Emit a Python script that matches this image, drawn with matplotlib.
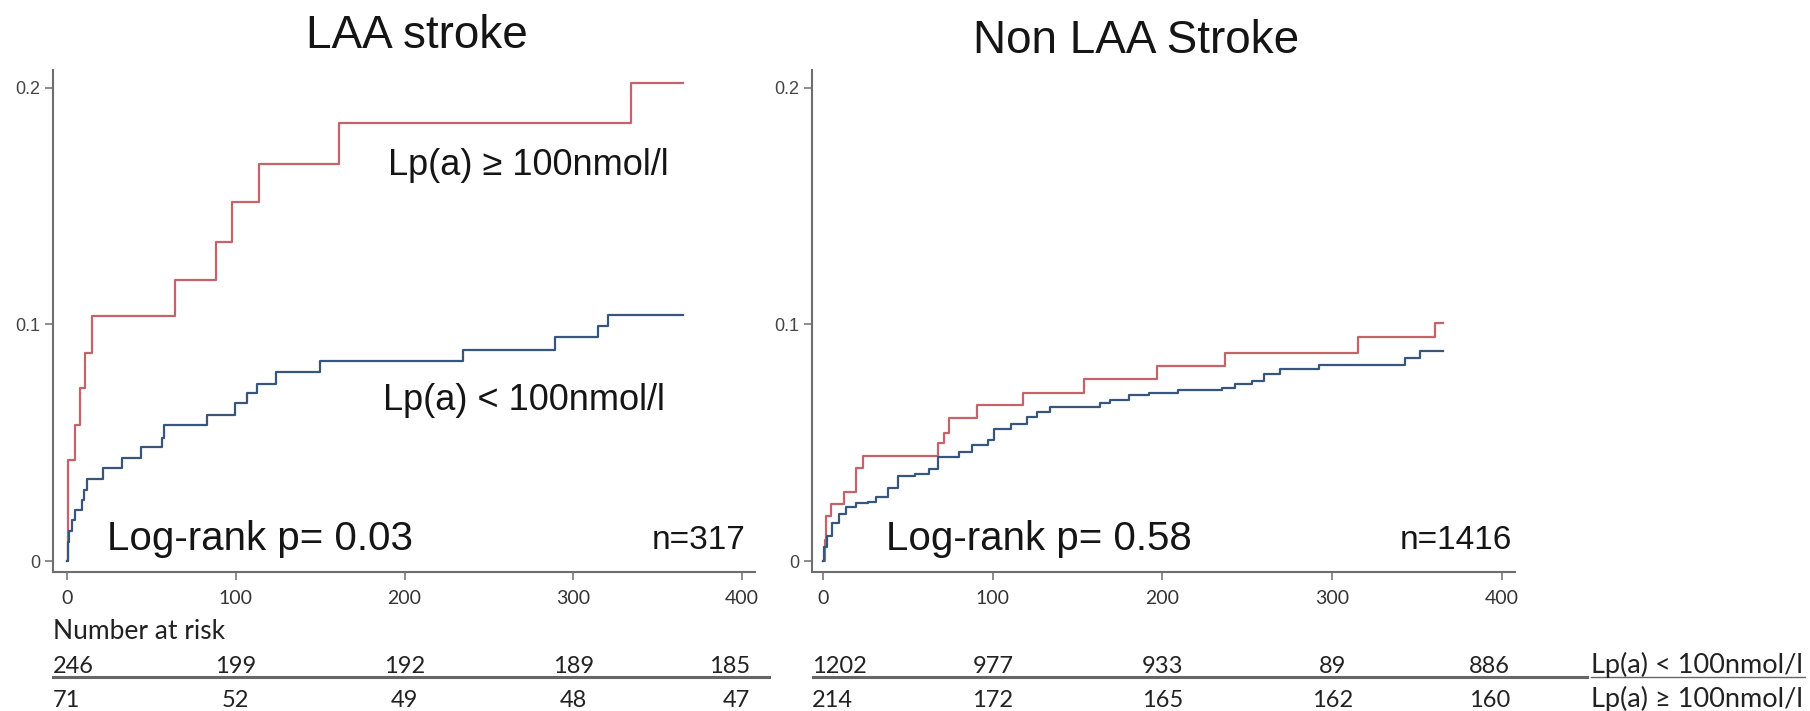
import matplotlib
matplotlib.use('Agg')
import matplotlib.pyplot as plt
import matplotlib.transforms as mtransforms
from matplotlib.lines import Line2D

# cumulative incidence (days, proportion)
laa_high_t = [0, 0.6, 4.9, 7.7, 10.6, 14.9, 64, 88, 98, 114, 161, 334, 365]
laa_high_v = [0, 0.0426, 0.0574, 0.073, 0.088, 0.1035, 0.119, 0.135, 0.152, 0.168, 0.185, 0.202, 0.202]

laa_low_t = [0, 0.5, 1.2, 2.8, 4.7, 8.7, 10, 11.6, 21.5, 32.4, 44, 56, 57.5, 82.8, 99.6,
             106.7, 112.6, 124, 150, 234.4, 289, 314.8, 320.5, 365]
laa_low_v = [0, 0.008, 0.0125, 0.0173, 0.0216, 0.0258, 0.030, 0.0347, 0.0393, 0.0436, 0.0482,
             0.052, 0.0575, 0.0617, 0.0668, 0.071, 0.075, 0.080, 0.0844, 0.0894, 0.0946,
             0.0993, 0.104, 0.104]

non_high_t = [0, 0.9, 1.7, 4.6, 12.3, 19.5, 23.8, 68, 71, 74, 91, 118, 154, 197, 237, 315, 360.5, 365]
non_high_v = [0, 0.009, 0.019, 0.024, 0.029, 0.0394, 0.0444, 0.050, 0.054, 0.0606, 0.066,
              0.0711, 0.0768, 0.0824, 0.088, 0.0947, 0.1006, 0.1006]

non_low_t = [0, 0.8, 2.3, 5.2, 9.5, 13.8, 19.5, 26.7, 31, 38, 43.9, 54, 62.5, 68, 80, 88, 97,
             101, 111, 120, 126, 134, 163, 169, 180, 192, 209, 235, 243, 253, 260, 269, 292,
             343, 352, 365]
non_low_v = [0, 0.006, 0.0106, 0.016, 0.020, 0.023, 0.0246, 0.025, 0.027, 0.031, 0.036, 0.0366,
             0.039, 0.044, 0.046, 0.049, 0.051, 0.056, 0.058, 0.061, 0.063, 0.065, 0.067, 0.068,
             0.070, 0.071, 0.0725, 0.073, 0.075, 0.076, 0.079, 0.081, 0.083, 0.086, 0.0888, 0.0888]

# number at risk table
risk_days = [0, 100, 200, 300, 400]
laa_risk_low = [246, 199, 192, 189, 185]
laa_risk_high = [71, 52, 49, 48, 47]
non_risk_low = [1202, 977, 933, 89, 886]
non_risk_high = [214, 172, 165, 162, 160]
row_labels = ['Lp(a) < 100nmol/l', 'Lp(a) ≥ 100nmol/l']

xticks = [0, 100, 200, 300, 400]
yticks = [0, 0.1, 0.2]
ytick_labels = ['0', '0.1', '0.2']

RED = '#c4646a'
BLUE = '#36567b'
GREY = '#6e6e6e'
SANS = 'Liberation Sans'
TABLE = ['Lato', 'DejaVu Sans']

plt.rcParams['font.family'] = [SANS, 'DejaVu Sans']

W, H = 1810, 711
fig = plt.figure(figsize=(W / 100, H / 100), dpi=100)


def px_box(x0, x1, ytop, ybot):
    return [x0 / W, 1 - ybot / H, (x1 - x0) / W, (ybot - ytop) / H]


ax1 = fig.add_axes(px_box(53, 755, 70, 572))
ax2 = fig.add_axes(px_box(812, 1515, 70, 572))


def style(ax, xlim):
    ax.set_xlim(*xlim)
    ax.set_ylim(-0.00465, 0.2076)
    for s in ('top', 'right'):
        ax.spines[s].set_visible(False)
    for s in ('left', 'bottom'):
        ax.spines[s].set_color(GREY)
        ax.spines[s].set_linewidth(1.5)
    ax.set_xticks(xticks)
    ax.set_yticks(yticks, ytick_labels)
    ax.tick_params(axis='both', direction='out', length=6, width=1.1, color=GREY)
    ax.tick_params(axis='y', pad=3, labelsize=13, labelcolor='#444444')
    ax.tick_params(axis='x', pad=7, labelsize=14, labelcolor='#333333')
    for lab in ax.get_xticklabels():
        lab.set_fontfamily(TABLE)


style(ax1, (-8.3, 407.7))
style(ax2, (-6.5, 407.7))

ax1.step(laa_high_t, laa_high_v, where='post', color=RED, lw=1.6)
ax1.step(laa_low_t, laa_low_v, where='post', color=BLUE, lw=1.6)
ax2.step(non_high_t, non_high_v, where='post', color=RED, lw=1.6)
ax2.step(non_low_t, non_low_v, where='post', color=BLUE, lw=1.6)

ink = '#151515'
ax1.text(190, 0.163, 'Lp(a) ≥ 100nmol/l', fontsize=26, color=ink)
ax1.text(187, 0.0638, 'Lp(a) < 100nmol/l', fontsize=26, color=ink)
ax1.text(23.7, 0.0047, 'Log-rank p= 0.03', fontsize=29, color=ink)
ax1.text(401.8, 0.0051, 'n=317', ha='right', fontsize=24, color=ink)
ax2.text(37, 0.0047, 'Log-rank p= 0.58', fontsize=29, color=ink)
ax2.text(406, 0.0051, 'n=1416', ha='right', fontsize=24, color=ink)

# titles
fig.text(417 / W, 1 - 48 / H, 'LAA stroke', ha='center', va='baseline', fontsize=33, color=ink)
fig.text(1136 / W, 1 - 53 / H, 'Non LAA Stroke', ha='center', va='baseline', fontsize=33, color=ink)

# number at risk table
fig.text(53 / W, 1 - 639 / H, 'Number at risk', ha='left', va='baseline',
         fontsize=19, family=TABLE, color='#222222')


def risk_rows(ax, rows):
    tr = mtransforms.blended_transform_factory(ax.transData, fig.transFigure)
    x0, x1 = ax.get_xlim()
    for row, base in zip(rows, [673, 707]):
        for j, (d, n) in enumerate(zip(risk_days, row)):
            if j == 0:
                x, ha = x0, 'left'
            elif j == len(row) - 1:
                x, ha = x1 - 3, 'right'
            else:
                x, ha = d, 'center'
            fig.text(x, 1 - base / H, str(n), transform=tr, ha=ha, va='baseline',
                     fontsize=17, family=TABLE, color='#222222')


risk_rows(ax1, [laa_risk_low, laa_risk_high])
risk_rows(ax2, [non_risk_low, non_risk_high])

for xa, xb in [(53, 769), (813, 1587)]:
    fig.add_artist(Line2D([xa / W, xb / W], [1 - 677 / H] * 2, color='#666666', lw=2.2))

for lab, base in zip(row_labels, [673, 707]):
    fig.text(1591 / W, 1 - base / H, lab, ha='left', va='baseline', fontsize=19.5,
             family=TABLE, color='#222222')
fig.add_artist(Line2D([1591 / W, 1805 / W], [1 - 677 / H] * 2, color='#666666', lw=1.0))

fig.savefig('out.png', dpi=100)
